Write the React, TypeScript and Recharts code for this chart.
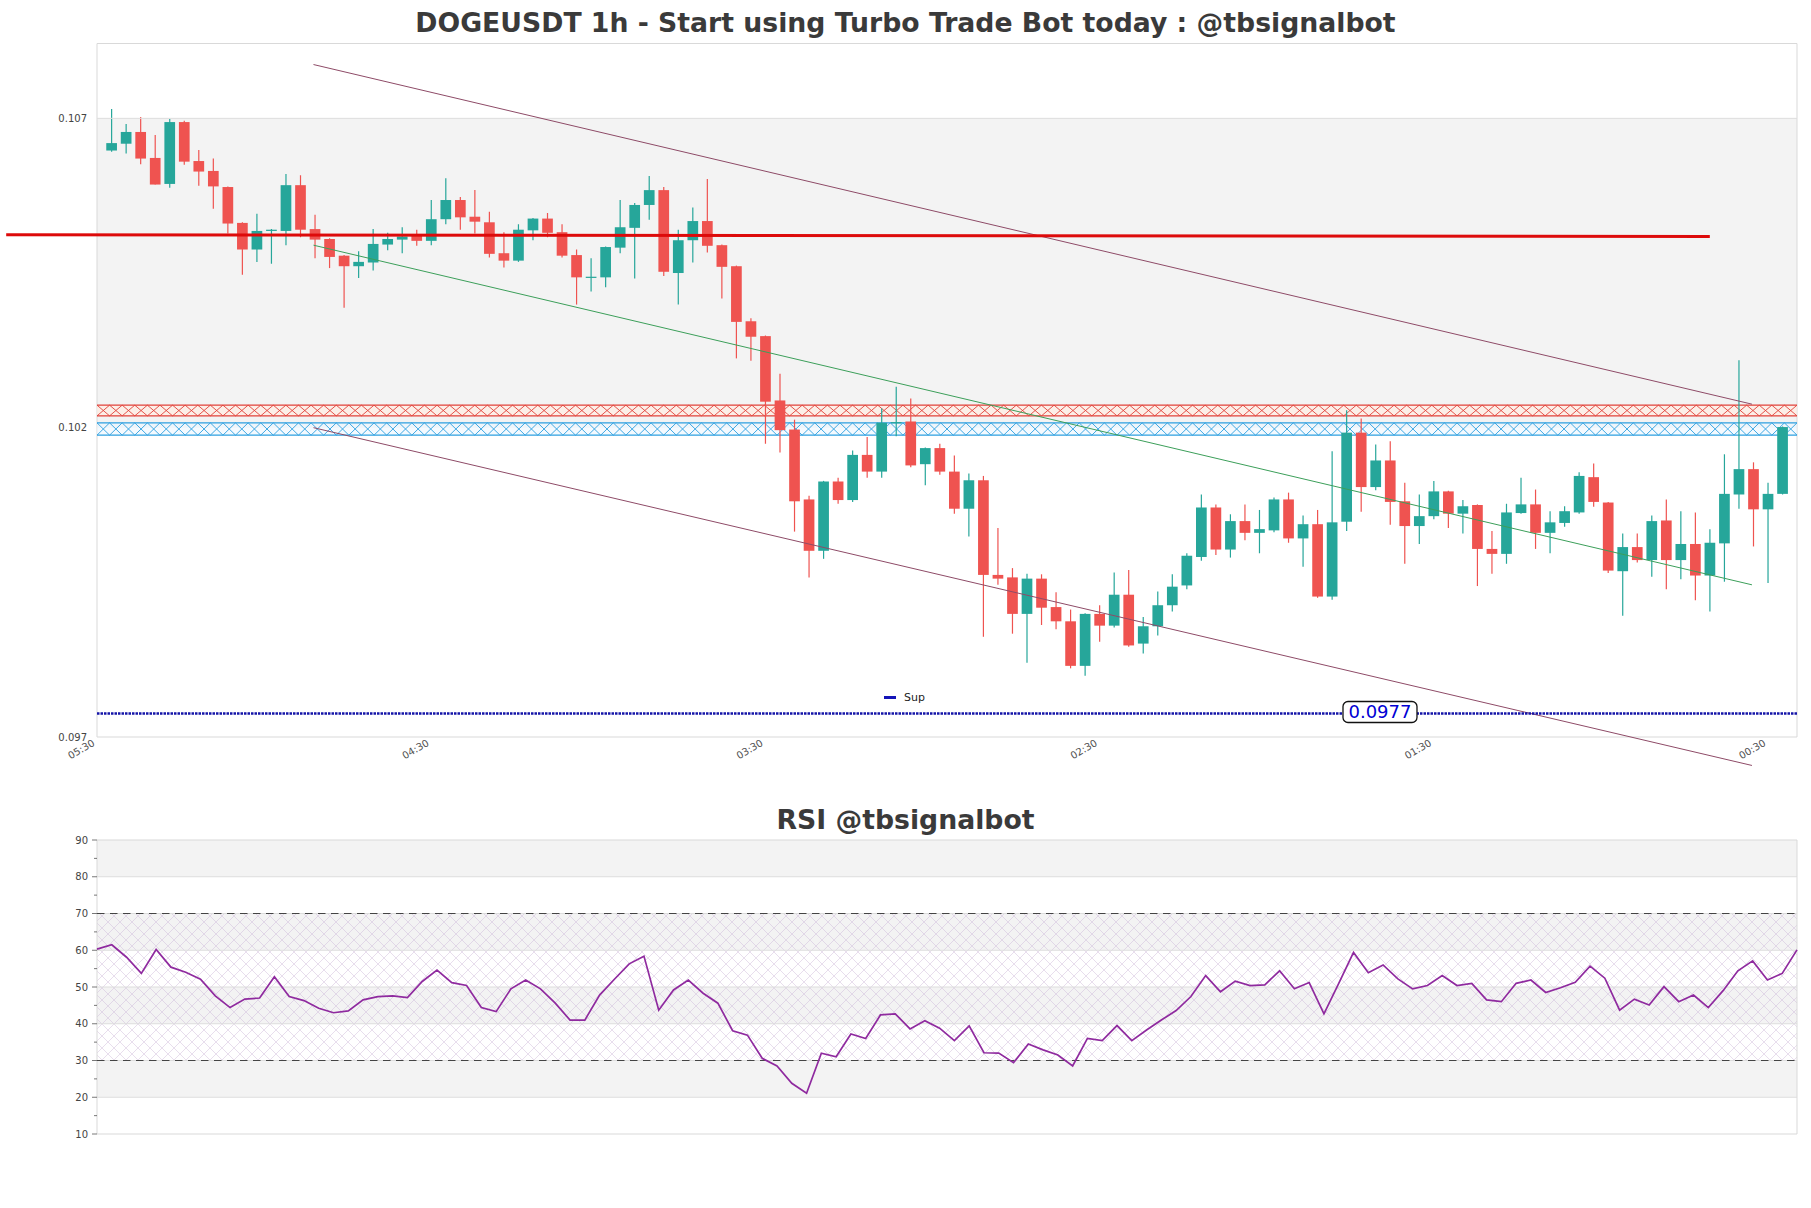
import React from 'react';
import {
  ComposedChart,
  Bar,
  Line,
  XAxis,
  YAxis,
  ReferenceArea,
  ReferenceLine,
  ReferenceDot,
} from 'recharts';

const FONT = '"DejaVu Sans", Verdana, sans-serif';

// ---------- price data (1h candles, oldest first) ----------
const candleOpen = [
  0.10648, 0.10659, 0.10678, 0.10636, 0.10594, 0.10694, 0.10631, 0.10615, 0.10589, 0.10531,
  0.10488, 0.10518, 0.10518, 0.10592, 0.10521, 0.10505, 0.10478, 0.10461, 0.10467, 0.10496,
  0.10504, 0.1051, 0.10502, 0.10537, 0.10568, 0.10541, 0.10532, 0.10482, 0.1047, 0.10519,
  0.10538, 0.10516, 0.10479, 0.10443, 0.10443, 0.10491, 0.10523, 0.1056, 0.10584, 0.1045,
  0.10503, 0.10534, 0.10495, 0.10461, 0.10372, 0.10348, 0.10244, 0.10197, 0.10084, 0.10001,
  0.10113, 0.10083, 0.10156, 0.10129, 0.10207, 0.1021, 0.10141, 0.10167, 0.10129, 0.10069,
  0.10115, 0.09962, 0.09958, 0.09899, 0.09956, 0.0991, 0.09887, 0.09815, 0.09899, 0.0988,
  0.0993, 0.09851, 0.09879, 0.09913, 0.09945, 0.09991, 0.10071, 0.10003, 0.10049, 0.1003,
  0.10034, 0.10084, 0.10021, 0.10044, 0.09927, 0.10048, 0.10192, 0.10104, 0.10147, 0.10081,
  0.10041, 0.10057, 0.10097, 0.10061, 0.10075, 0.10004, 0.09996, 0.10062, 0.10076, 0.1003,
  0.10046, 0.10063, 0.1012, 0.10079, 0.09968, 0.10007, 0.09986, 0.1005, 0.09986, 0.10012,
  0.09961, 0.10013, 0.10092, 0.10133, 0.10068, 0.10093,
];
const candleHigh = [
  0.10715, 0.10691, 0.10702, 0.10673, 0.10699, 0.10696, 0.10649, 0.10635, 0.1059, 0.10532,
  0.10546, 0.10521, 0.1061, 0.10608, 0.10544, 0.10506, 0.10479, 0.10485, 0.10521, 0.10515,
  0.10524, 0.1052, 0.10568, 0.10603, 0.10573, 0.10584, 0.10549, 0.10516, 0.10529, 0.10539,
  0.10547, 0.10529, 0.10488, 0.10474, 0.10493, 0.10568, 0.10563, 0.10607, 0.10589, 0.1052,
  0.10556, 0.10602, 0.10496, 0.10462, 0.10377, 0.10349, 0.10287, 0.10213, 0.1009, 0.10114,
  0.10119, 0.10163, 0.10185, 0.10231, 0.10266, 0.10247, 0.10168, 0.10174, 0.10155, 0.10126,
  0.10122, 0.10038, 0.09973, 0.09964, 0.09963, 0.09934, 0.09906, 0.099, 0.09913, 0.09966,
  0.0997, 0.09894, 0.09935, 0.09963, 0.09997, 0.10092, 0.10076, 0.1006, 0.10076, 0.10067,
  0.10087, 0.10095, 0.10058, 0.10067, 0.10162, 0.10228, 0.10215, 0.10173, 0.10178, 0.10111,
  0.10092, 0.10114, 0.10098, 0.10083, 0.10076, 0.10033, 0.10077, 0.10119, 0.101, 0.10065,
  0.10073, 0.10128, 0.10142, 0.1008, 0.10029, 0.10029, 0.10058, 0.10084, 0.10065, 0.10063,
  0.10036, 0.10157, 0.10309, 0.10144, 0.10111, 0.10202,
];
const candleLow = [
  0.10646, 0.10643, 0.10626, 0.10593, 0.10588, 0.10625, 0.10591, 0.10554, 0.10514, 0.10447,
  0.10468, 0.10465, 0.10495, 0.10508, 0.10474, 0.10458, 0.10394, 0.10442, 0.10454, 0.10487,
  0.10482, 0.10494, 0.10495, 0.10529, 0.1052, 0.10514, 0.10475, 0.10459, 0.10468, 0.10503,
  0.10508, 0.10475, 0.10399, 0.1042, 0.10427, 0.10482, 0.10441, 0.10536, 0.10445, 0.10399,
  0.10467, 0.10483, 0.10409, 0.10312, 0.10308, 0.10174, 0.1016, 0.10032, 0.09958, 0.09988,
  0.10077, 0.1008, 0.10119, 0.10119, 0.10186, 0.10136, 0.10107, 0.10124, 0.10061, 0.10024,
  0.09862, 0.09946, 0.09867, 0.0982, 0.09881, 0.09874, 0.09811, 0.09799, 0.09854, 0.09877,
  0.09846, 0.09835, 0.09864, 0.09903, 0.09939, 0.09985, 0.09994, 0.0999, 0.10018, 0.09997,
  0.10031, 0.10014, 0.09975, 0.09925, 0.09922, 0.10033, 0.10064, 0.10099, 0.10043, 0.0998,
  0.10012, 0.10052, 0.10038, 0.10029, 0.09944, 0.09964, 0.0998, 0.10061, 0.10004, 0.09997,
  0.1004, 0.10061, 0.10072, 0.09965, 0.09896, 0.09982, 0.09959, 0.09939, 0.09955, 0.09921,
  0.09903, 0.09951, 0.10069, 0.10008, 0.09949, 0.10092,
];
const candleClose = [
  0.1066, 0.10678, 0.10635, 0.10593, 0.10694, 0.1063, 0.10614, 0.1059, 0.1053, 0.10488,
  0.10518, 0.1052, 0.10592, 0.1052, 0.10504, 0.10476, 0.10461, 0.10468, 0.10497, 0.10505,
  0.10509, 0.10502, 0.10537, 0.10568, 0.1054, 0.10533, 0.10481, 0.1047, 0.1052, 0.10538,
  0.10515, 0.10478, 0.10443, 0.10444, 0.10492, 0.10524, 0.1056, 0.10584, 0.10452, 0.10503,
  0.10534, 0.10494, 0.1046, 0.10371, 0.10347, 0.10242, 0.10196, 0.10081, 0.10001, 0.10113,
  0.10083, 0.10156, 0.10129, 0.10208, 0.10209, 0.10139, 0.10167, 0.10129, 0.10069, 0.10115,
  0.09962, 0.09956, 0.09899, 0.09956, 0.09909, 0.09887, 0.09815, 0.09899, 0.0988, 0.0993,
  0.09848, 0.09879, 0.09913, 0.09943, 0.09993, 0.10071, 0.10003, 0.10049, 0.1003, 0.10036,
  0.10084, 0.10021, 0.10044, 0.09927, 0.10047, 0.10192, 0.10104, 0.10147, 0.1008, 0.10041,
  0.10057, 0.10097, 0.10061, 0.10073, 0.10004, 0.09996, 0.10063, 0.10076, 0.1003, 0.10047,
  0.10065, 0.10122, 0.1008, 0.09969, 0.10007, 0.09986, 0.10049, 0.09986, 0.10012, 0.09961,
  0.10014, 0.10093, 0.10133, 0.10068, 0.10093, 0.10201,
];

// ---------- RSI values (one per candle) ----------
const rsiValues = [
  60.3, 61.5, 58.1, 53.7, 60.2, 55.4, 54.0, 52.1, 47.6, 44.4,
  46.7, 47.0, 52.8, 47.4, 46.3, 44.2, 43.0, 43.5, 46.5, 47.4,
  47.6, 47.1, 51.5, 54.6, 51.2, 50.4, 44.4, 43.3, 49.5, 51.9,
  49.5, 45.6, 41.0, 41.0, 47.8, 52.1, 56.3, 58.4, 43.7, 49.2,
  51.9, 48.3, 45.6, 38.1, 36.9, 30.6, 28.5, 23.8, 21.1, 32.0,
  31.0, 37.2, 36.0, 42.4, 42.7, 38.6, 40.8, 38.8, 35.4, 39.4,
  32.1, 32.0, 29.4, 34.5, 32.9, 31.5, 28.5, 36.0, 35.4, 39.5,
  35.4, 38.3, 41.0, 43.6, 47.4, 53.1, 48.7, 51.6, 50.4, 50.6,
  54.4, 49.5, 51.2, 42.7, 51.0, 59.4, 53.9, 56.0, 52.2, 49.5,
  50.4, 53.1, 50.4, 51.0, 46.5, 46.0, 51.0, 51.9, 48.5, 49.8,
  51.3, 55.7, 52.4, 43.7, 46.7, 45.1, 50.1, 46.0, 47.8, 44.4,
  49.0, 54.4, 57.1, 51.9, 53.7, 60.1,
];

// ---------- axes / levels ----------
const timeTickIndex = [-1, 22, 45, 68, 91, 114];
const timeTickLabels = ['05:30', '04:30', '03:30', '02:30', '01:30', '00:30'];
const priceTicks = [0.097, 0.102, 0.107];
const priceDomain: [number, number] = [0.097, 0.10821];
const xDomain: [number, number] = [-1, 116];
const rsiTicks = [10, 15, 20, 25, 30, 35, 40, 45, 50, 55, 60, 65, 70, 75, 80, 85, 90];
const rsiGreyBands = [[80, 90], [60, 70], [40, 50], [20, 30]];
const rsiGridLines = [20, 30, 40, 50, 60, 70, 80];

const supLevel = 0.09738;
const supLabel = '0.0977';
const supLabelIndex = 87.3;
const resistanceZone = [0.102191, 0.102364];
const supportZone = [0.101879, 0.102078];
const horizontalLevel = [
  { x: -7.25, y: 0.10512 },
  { x: 110, y: 0.10509 },
];
const channelUpper = [
  { x: 13.9, y: 0.10787 },
  { x: 112.9, y: 0.10238 },
];
const channelLower = [
  { x: 13.9, y: 0.102 },
  { x: 112.9, y: 0.09654 },
];
const trendMid = [
  { x: 13.9, y: 0.10495 },
  { x: 112.9, y: 0.09946 },
];

const candles = candleOpen.map((o, i) => ({
  i,
  o,
  h: candleHigh[i],
  l: candleLow[i],
  c: candleClose[i],
  range: [candleLow[i], candleHigh[i]],
}));
const rsiData = rsiValues.map((v, i) => ({ i, v }));

const UP = '#26a69a';
const DOWN = '#ef5350';

const Candle = (props: any) => {
  const { x, y, width, height, payload } = props;
  if (!payload) return null;
  const { o, h, l, c } = payload;
  const top = Math.min(y, y + height);
  const hgt = Math.abs(height);
  const ratio = hgt / (h - l);
  const cx = x + width / 2;
  const yO = top + (h - o) * ratio;
  const yC = top + (h - c) * ratio;
  const color = c >= o ? UP : DOWN;
  const bt = Math.min(yO, yC);
  const bh = Math.max(Math.abs(yO - yC), 1.2);
  return (
    <g>
      <line x1={cx} x2={cx} y1={top} y2={top + hgt} stroke={color} strokeWidth={1.2} />
      <rect x={x} y={bt} width={width} height={bh} fill={color} />
    </g>
  );
};

const makeHatch = (stroke: string, bg: string) => (props: any) => {
  const { x, y, width, height } = props;
  const n = Math.max(1, Math.round(width / 12.6));
  const cw = width / n;
  let d = '';
  for (let k = 0; k < n; k++) {
    const a = x + k * cw;
    const b = a + cw;
    d += `M${a},${y}L${b},${y + height}M${b},${y}L${a},${y + height}`;
  }
  return (
    <g>
      <rect x={x} y={y} width={width} height={height} fill={bg} />
      <path d={d} stroke={stroke} strokeWidth={0.9} fill="none" />
      <line x1={x} x2={x + width} y1={y} y2={y} stroke={stroke} strokeWidth={1.1} />
      <line x1={x} x2={x + width} y1={y + height} y2={y + height} stroke={stroke} strokeWidth={1.1} />
    </g>
  );
};
const RedHatch = makeHatch('#e2423a', 'rgba(255,236,226,0.7)');
const BlueHatch = makeHatch('#2c9fe0', 'rgba(236,246,255,0.6)');

const RsiHatch = (props: any) => {
  const { x, y, width, height } = props;
  return (
    <g>
      <defs>
        <pattern id="rsiHatchPat" width={12} height={12} patternUnits="userSpaceOnUse">
          <path d="M0,0L12,12M12,0L0,12" stroke="#cbb6d8" strokeWidth={0.7} />
        </pattern>
      </defs>
      <rect x={x} y={y} width={width} height={height} fill="url(#rsiHatchPat)" opacity={0.65} />
    </g>
  );
};

const SupBox = (props: any) => {
  const { cx, cy } = props;
  return (
    <g>
      <rect x={cx - 37} y={cy - 12} width={74} height={21} rx={5} ry={5} fill="#fff" stroke="#111" strokeWidth={1.3} />
      <text x={cx} y={cy - 1.5} dy="0.36em" textAnchor="middle" fontSize={18} fill="#0000d4" fontFamily={FONT}>
        {supLabel}
      </text>
    </g>
  );
};

const TimeTick = (props: any) => {
  const { x, y, payload } = props;
  const idx = timeTickIndex.indexOf(payload.value);
  const ax = x - 1.5;
  const ay = y + 8;
  return (
    <text x={ax} y={ay} transform={`rotate(-30 ${ax} ${ay})`} textAnchor="end" fontSize={10} fill="#505050" fontFamily={FONT}>
      {idx >= 0 ? timeTickLabels[idx] : ''}
    </text>
  );
};

const RsiTick = (props: any) => {
  const { x, y, payload } = props;
  const v = payload.value;
  const major = v % 10 === 0;
  return (
    <g>
      <line x1={x - (major ? 5 : 3)} x2={x} y1={y} y2={y} stroke="#555" strokeWidth={0.8} />
      {major && (
        <text x={x - 9} y={y} dy="0.36em" textAnchor="end" fontSize={10} fill="#444" fontFamily={FONT}>
          {v}
        </text>
      )}
    </g>
  );
};

const titleStyle: React.CSSProperties = {
  position: 'absolute',
  left: 0,
  width: 1811,
  height: 46,
  lineHeight: '46px',
  textAlign: 'center',
  fontFamily: FONT,
  fontWeight: 'bold',
  fontSize: 26.7,
  color: '#3a3a3a',
};

export default function App() {
  return (
    <div style={{ position: 'absolute', left: 0, top: 0, width: 1811, height: 1208, background: '#fff', fontFamily: FONT }}>
      <div style={{ ...titleStyle, top: 0 }}>DOGEUSDT 1h - Start using Turbo Trade Bot today : @tbsignalbot</div>

      <div style={{ position: 'absolute', left: 0, top: 0 }}>
        <ComposedChart width={1811} height={800} data={candles} margin={{ top: 43.5, right: 14, left: 37, bottom: 13 }}>
          <XAxis
            dataKey="i"
            type="number"
            domain={xDomain}
            allowDataOverflow
            ticks={timeTickIndex}
            interval={0}
            tick={<TimeTick />}
            axisLine={false}
            tickLine={false}
            tickSize={0}
            tickMargin={0}
            height={50}
          />
          <YAxis
            type="number"
            domain={priceDomain}
            allowDataOverflow
            ticks={priceTicks}
            tickFormatter={(v: number) => v.toFixed(3)}
            tick={{ fontSize: 10, fill: '#444', fontFamily: FONT }}
            axisLine={false}
            tickLine={false}
            tickSize={0}
            tickMargin={10}
            width={60}
          />
          <ReferenceArea y1={0.102} y2={0.107} fill="#f3f3f3" fillOpacity={1} stroke="none" ifOverflow="hidden" />
          <ReferenceLine y={0.107} stroke="#dddddd" strokeWidth={1} />
          <ReferenceArea x1={xDomain[0]} x2={xDomain[1]} y1={priceDomain[0]} y2={priceDomain[1]} fill="none" stroke="#d9d9d9" strokeWidth={1} />
          <ReferenceArea y1={resistanceZone[0]} y2={resistanceZone[1]} shape={RedHatch} />
          <ReferenceArea y1={supportZone[0]} y2={supportZone[1]} shape={BlueHatch} />
          <Bar dataKey="range" barSize={10.7} shape={Candle} isAnimationActive={false} />
          <ReferenceLine segment={channelUpper} stroke="#8e4b67" strokeWidth={1} ifOverflow="visible" />
          <ReferenceLine segment={channelLower} stroke="#8e4b67" strokeWidth={1} ifOverflow="visible" />
          <ReferenceLine segment={trendMid} stroke="#3c9f5a" strokeWidth={1} ifOverflow="visible" />
          <ReferenceLine segment={horizontalLevel} stroke="#dd0a0a" strokeWidth={3} ifOverflow="visible" />
          <ReferenceLine y={supLevel} stroke="#1414a8" strokeWidth={2.6} strokeDasharray="2.5 1" />
          <ReferenceDot x={supLabelIndex} y={supLevel} shape={SupBox} />
        </ComposedChart>
      </div>

      <div style={{ position: 'absolute', left: 884, top: 691, display: 'flex', alignItems: 'center', fontFamily: FONT, fontSize: 11, color: '#222' }}>
        <div style={{ width: 12, height: 2.5, background: '#1414b8', marginRight: 8 }} />
        <span>Sup</span>
      </div>

      <div style={{ ...titleStyle, top: 797 }}>RSI @tbsignalbot</div>

      <div style={{ position: 'absolute', left: 0, top: 790 }}>
        <ComposedChart width={1811} height={380} data={rsiData} margin={{ top: 50, right: 14, left: 37, bottom: 36 }}>
          <XAxis dataKey="i" type="number" domain={[0, rsiValues.length - 1]} hide height={0} />
          <YAxis
            type="number"
            domain={[10, 90]}
            allowDataOverflow
            ticks={rsiTicks}
            interval={0}
            tick={<RsiTick />}
            axisLine={false}
            tickLine={false}
            tickSize={0}
            tickMargin={0}
            width={60}
          />
          {rsiGreyBands.map(([a, b]) => (
            <ReferenceArea key={`g${a}`} y1={a} y2={b} fill="#f3f3f3" fillOpacity={1} stroke="none" />
          ))}
          {rsiGridLines.map((g) => (
            <ReferenceLine key={`l${g}`} y={g} stroke="#dddddd" strokeWidth={1} />
          ))}
          <ReferenceArea y1={30} y2={70} shape={RsiHatch} />
          <ReferenceArea x1={0} x2={rsiValues.length - 1} y1={10} y2={90} fill="none" stroke="#d9d9d9" strokeWidth={1} />
          <ReferenceLine y={70} stroke="#444" strokeWidth={1.2} strokeDasharray="7.5 5.5" />
          <ReferenceLine y={30} stroke="#444" strokeWidth={1.2} strokeDasharray="7.5 5.5" />
          <Line dataKey="v" type="linear" stroke="#8f2a9f" strokeWidth={1.7} dot={false} isAnimationActive={false} />
        </ComposedChart>
      </div>
    </div>
  );
}
